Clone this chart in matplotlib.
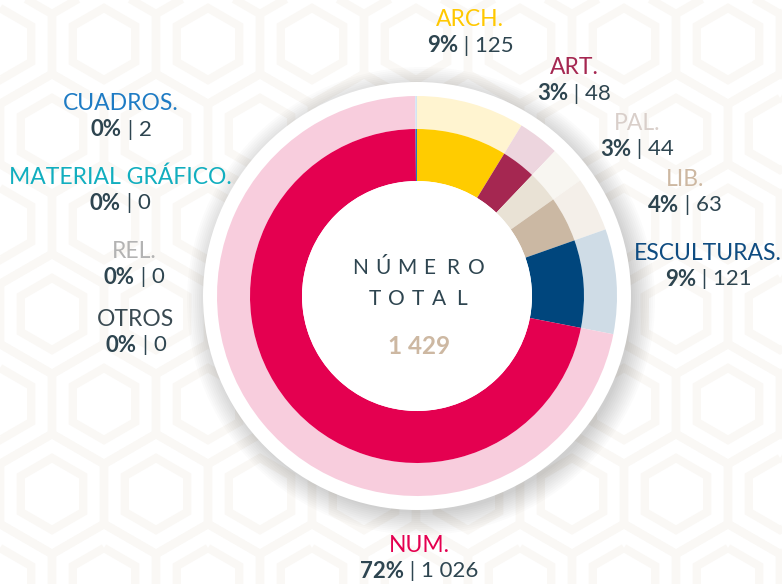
import numpy as np
import matplotlib
matplotlib.use('Agg')
from matplotlib import pyplot as plt
from matplotlib.patches import Circle, RegularPolygon

plt.rcParams['font.family'] = ['Lato', 'DejaVu Sans']

# data
labels = ['ARCH.', 'ART.', 'PAL.', 'LIB.', 'ESCULTURAS.', 'NUM.',
          'CUADROS.', 'MATERIAL GRÁFICO.', 'REL.', 'OTROS']
counts = [125, 48, 44, 63, 121, 1026, 2, 0, 0, 0]
pcts = [9, 3, 3, 4, 9, 72, 0, 0, 0, 0]
count_text = ['125', '48', '44', '63', '121', '1 026', '2', '0', '0', '0']
total_text = '1 429'

inner_colors = ['#FFCC00', '#A52751', '#E9E2D5', '#CBB8A3', '#00467D', '#E40050',
                '#1E7BC4', '#11AEBF', '#B3B3B3', '#3A4A52']
outer_colors = ['#FFF4D0', '#EDD5DE', '#F8F6F1', '#F4EFE9', '#CFDCE6', '#F8CDDD',
                '#D2E4F3', '#CFEFF2', '#EEEEEE', '#DDDDDD']
label_colors = ['#FFC800', '#A52751', '#D9CFCA', '#CDB8A2', '#0F4C81', '#E40050',
                '#1E7BC4', '#11AEBF', '#B3B3B3', '#3A4A52']

# label positions in pixels (x, y of name line)
label_pos = [(470, 20), (574, 68), (637, 123), (685, 179), (708, 253), (419, 545),
             (121, 104), (120, 177), (134, 251), (136, 319)]

W, H = 782, 584
dark = '#2E4550'

fig = plt.figure(figsize=(W / 100, H / 100), dpi=100)
ax = fig.add_axes([0, 0, 1, 1])

# faint hexagon background
for i in range(-1, 9):
    for j in range(-1, 7):
        hx = i * 104 + (52 if j % 2 else 0)
        hy = j * 90
        for rr in (60, 36):
            ax.add_patch(RegularPolygon((hx, hy), 6, radius=rr, fill=False,
                                        edgecolor='#FAF8F5', linewidth=6, zorder=0))

cx, cy = 417, H - 296
# shadow and white plate
for r in np.linspace(234, 212, 12):
    ax.add_patch(Circle((cx + 4, cy - 5), r, color='#000000', alpha=0.014, lw=0, zorder=1))
ax.add_patch(Circle((cx, cy), 214, color='white', lw=0, zorder=2))

ax.pie(counts, radius=200, center=(cx, cy), startangle=90, counterclock=False,
       colors=outer_colors, wedgeprops=dict(width=33, linewidth=0, zorder=3))
ax.pie(counts, radius=167, center=(cx, cy), startangle=90, counterclock=False,
       colors=inner_colors, wedgeprops=dict(width=52, linewidth=0, zorder=4))
ax.add_patch(Circle((cx, cy), 115, color='white', lw=0, zorder=5))

ax.set_xlim(0, W)
ax.set_ylim(0, H)
ax.set_aspect('equal')
ax.axis('off')

# centre text with letter spacing
for word, y, step in (('NÚMERO', 268, 23.2), ('TOTAL', 299, 21.5)):
    n = len(word)
    for k, ch in enumerate(word):
        ax.text(cx + 1 + (k - (n - 1) / 2) * step, H - y, ch, ha='center', va='center',
                fontsize=15, color=dark, zorder=6)
ax.text(cx + 2, H - 347, total_text, ha='center', va='center', fontsize=17.5,
        fontweight='bold', color='#CDB8A2', zorder=6)

renderer = fig.canvas.get_renderer()
for name, p, c, col, (x, y) in zip(labels, pcts, count_text, label_colors, label_pos):
    ax.text(x, H - y, name, ha='center', va='center', fontsize=16.5, color=col, zorder=6)
    t1 = ax.text(0, H - y - 26, f'{p}%', ha='left', va='center', fontsize=16,
                 fontweight='bold', color=dark, zorder=6)
    t2 = ax.text(0, H - y - 26, f' | {c}', ha='left', va='center', fontsize=16,
                 color=dark, zorder=6)
    w1 = t1.get_window_extent(renderer).width
    w2 = t2.get_window_extent(renderer).width
    x0 = x - (w1 + w2) / 2
    t1.set_x(x0)
    t2.set_x(x0 + w1)

fig.savefig('out.png', dpi=100, facecolor='white')
